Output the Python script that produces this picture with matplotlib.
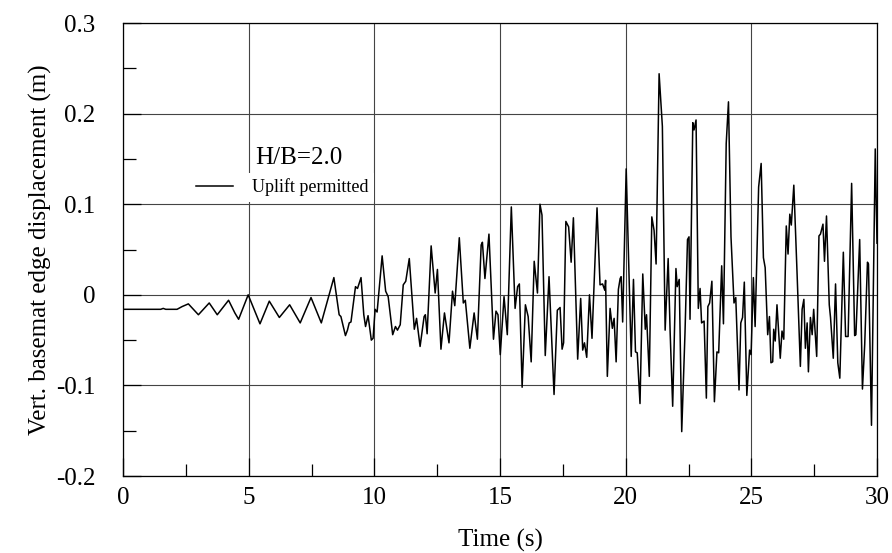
import numpy as np
import matplotlib.pyplot as plt
from matplotlib.lines import Line2D
from matplotlib.ticker import MultipleLocator

plt.rcParams['font.family'] = ['Liberation Serif', 'DejaVu Serif']
plt.rcParams['font.size'] = 18

# digitised time history (peaks / troughs / kinks)
time_s = [
    0.0, 1.50, 1.60, 1.70, 2.15, 2.35, 2.60, 3.00, 3.43, 3.75, 4.20, 4.45, 4.60,
    4.98, 5.45, 5.82, 6.22, 6.63, 7.05, 7.48, 7.89, 8.39, 8.60, 8.67, 8.85, 8.93,
    9.00, 9.07, 9.25, 9.33, 9.47, 9.58, 9.65, 9.75, 9.88, 9.95, 10.03, 10.11,
    10.31, 10.45, 10.55, 10.73, 10.84, 10.92, 11.03, 11.15, 11.25, 11.39, 11.59,
    11.68, 11.82, 11.98, 12.03, 12.10, 12.26, 12.42, 12.51, 12.65, 12.79, 12.97,
    13.11, 13.20, 13.38, 13.54, 13.62, 13.80, 13.97, 14.10, 14.25, 14.30, 14.40,
    14.56, 14.74, 14.84, 14.92, 15.01, 15.16, 15.29, 15.45, 15.60, 15.70, 15.77,
    15.88, 16.01, 16.12, 16.24, 16.36, 16.49, 16.59, 16.67, 16.80, 16.95, 17.15,
    17.28, 17.39, 17.47, 17.53, 17.62, 17.73, 17.83, 17.92, 18.09, 18.21, 18.29,
    18.36, 18.45, 18.56, 18.66, 18.86, 18.98, 19.08, 19.17, 19.20, 19.27, 19.38,
    19.47, 19.54, 19.62, 19.71, 19.78, 19.82, 19.88, 20.02, 20.22, 20.31, 20.39,
    20.46, 20.57, 20.68, 20.78, 20.83, 20.94, 21.04, 21.13, 21.21, 21.33, 21.46,
    21.57, 21.69, 21.77, 21.87, 22.00, 22.05, 22.13, 22.23, 22.36, 22.46, 22.52,
    22.56, 22.67, 22.72, 22.80, 22.89, 22.96, 23.02, 23.12, 23.21, 23.27, 23.34,
    23.43, 23.53, 23.63, 23.70, 23.82, 23.89, 24.00, 24.09, 24.19, 24.31, 24.38,
    24.51, 24.58, 24.65, 24.72, 24.82, 24.93, 24.99, 25.08, 25.15, 25.29, 25.39,
    25.48, 25.55, 25.65, 25.72, 25.78, 25.85, 25.89, 25.95, 26.02, 26.15, 26.22,
    26.29, 26.39, 26.46, 26.53, 26.59, 26.69, 26.82, 26.95, 27.02, 27.09, 27.15,
    27.22, 27.27, 27.35, 27.42, 27.48, 27.60, 27.69, 27.75, 27.85, 27.91, 27.99,
    28.10, 28.15, 28.26, 28.35, 28.44, 28.52, 28.66, 28.75, 28.85, 28.99, 29.11,
    29.16, 29.31, 29.42, 29.51, 29.62, 29.66, 29.78, 29.93, 30.00,
]
disp_m = [
    -0.016, -0.016, -0.015, -0.016, -0.016, -0.013, -0.010, -0.022, -0.009, -0.022,
    -0.006, -0.020, -0.027, 0.000, -0.032, -0.007, -0.025, -0.011, -0.031, -0.003,
    -0.031, 0.019, -0.022, -0.024, -0.045, -0.039, -0.031, -0.030, 0.009, 0.007,
    0.019, -0.022, -0.035, -0.023, -0.050, -0.048, -0.016, -0.019, 0.043, 0.004,
    -0.002, -0.044, -0.035, -0.039, -0.033, 0.011, 0.015, 0.040, -0.038, -0.026,
    -0.057, -0.024, -0.022, -0.043, 0.054, 0.002, 0.028, -0.060, -0.020, -0.053,
    0.004, -0.012, 0.063, -0.009, -0.006, -0.059, -0.020, -0.049, 0.055, 0.058,
    0.018, 0.067, -0.049, -0.018, -0.022, -0.066, -0.002, -0.044, 0.097, -0.015,
    0.009, 0.012, -0.102, -0.011, -0.024, -0.074, 0.037, 0.002, 0.100, 0.088,
    -0.067, 0.020, -0.110, -0.017, -0.014, -0.060, -0.053, 0.081, 0.075, 0.036,
    0.085, -0.071, -0.004, -0.061, -0.053, -0.069, 0.000, -0.048, 0.096, 0.011,
    0.012, 0.005, 0.016, -0.090, -0.015, -0.037, -0.026, -0.074, 0.006, 0.018,
    0.020, -0.030, 0.139, -0.068, 0.017, -0.063, -0.064, -0.120, 0.023, -0.038,
    -0.022, -0.090, 0.086, 0.071, 0.034, 0.244, 0.186, -0.039, 0.040, -0.042,
    -0.123, 0.029, 0.009, 0.017, -0.151, -0.042, 0.061, 0.064, -0.027, 0.190,
    0.182, 0.193, -0.015, 0.007, -0.031, -0.029, -0.114, -0.013, -0.009, 0.015,
    -0.118, -0.063, -0.064, 0.032, -0.032, 0.167, 0.213, 0.064, -0.009, -0.003,
    -0.105, -0.031, -0.025, 0.014, -0.111, -0.061, -0.066, 0.019, -0.035, 0.119,
    0.145, 0.041, 0.030, -0.044, -0.024, -0.075, -0.074, -0.038, -0.051, -0.011,
    -0.070, -0.040, -0.049, 0.076, 0.045, 0.089, 0.077, 0.121, 0.023, -0.079,
    -0.016, -0.005, -0.059, -0.031, -0.085, -0.025, -0.044, -0.016, -0.068, 0.065,
    0.067, 0.078, 0.037, 0.087, -0.011, -0.025, -0.070, 0.012, -0.075, -0.092,
    0.047, -0.046, -0.046, 0.123, -0.045, -0.044, 0.061, -0.104, -0.055, 0.036,
    0.034, -0.144, 0.161, 0.057,
]

fig = plt.figure(figsize=(8.92, 5.53), dpi=100)
ax = fig.add_axes([0.1379, 0.1392, 0.8453, 0.8192])

ax.plot(time_s, disp_m, color='black', linewidth=1.1, zorder=3)

ax.set_xlim(0, 30)
ax.set_ylim(-0.2, 0.3)
ax.xaxis.set_major_locator(MultipleLocator(5))
ax.xaxis.set_minor_locator(MultipleLocator(2.5))
ax.yaxis.set_major_locator(MultipleLocator(0.1))
ax.yaxis.set_minor_locator(MultipleLocator(0.05))
ax.yaxis.set_major_formatter(plt.FuncFormatter(lambda v, p: '0' if abs(v) < 1e-9 else f'{v:.1f}'))

ax.grid(True, which='major', color='#444444', linewidth=0.8)
ax.tick_params(which='major', direction='in', length=13, width=0.9)
ax.tick_params(axis='x', which='major', pad=8)
ax.tick_params(axis='y', which='major', pad=20)
ax.tick_params(which='minor', direction='in', length=9, width=0.9)
for s in ax.spines.values():
    s.set_linewidth(0.9)

ax.set_xlabel('Time (s)', labelpad=14)
ax.set_ylabel('Vert. basemat edge displacement (m)', labelpad=3)

# legend entry (smaller type) on a white patch, case label above it
leg = ax.legend([Line2D([], [], color='black', linewidth=1.1)], ['Uplift permitted'],
                loc='upper left', bbox_to_anchor=(0.089, 0.669), borderaxespad=0,
                frameon=True, fancybox=False, handlelength=2.1, handletextpad=1.05,
                borderpad=0.3, fontsize=13)
leg.get_frame().set_facecolor('white')
leg.get_frame().set_edgecolor('none')
leg.get_frame().set_alpha(1)
leg.set_zorder(5)
ax.text(0.176, 0.702, 'H/B=2.0', transform=ax.transAxes, ha='left', va='center',
        fontsize=18, zorder=6)

fig.savefig('out.png', dpi=100)
